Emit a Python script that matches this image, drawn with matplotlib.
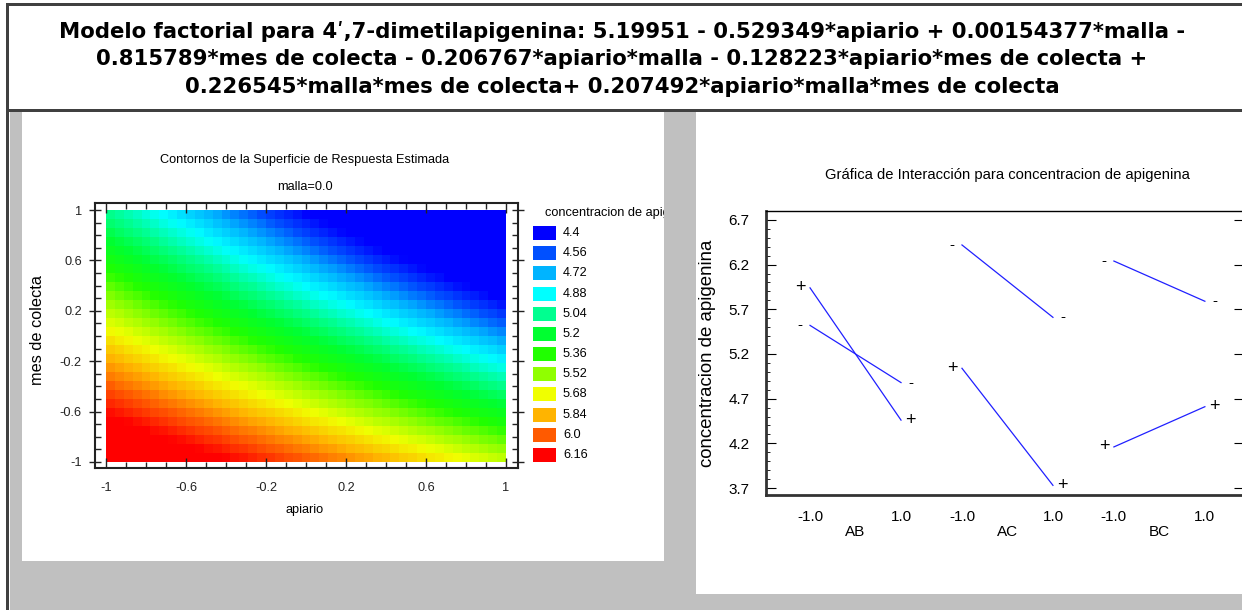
import matplotlib
matplotlib.use('Agg')
import matplotlib.pyplot as plt
import numpy as np
from matplotlib.patches import Rectangle
from matplotlib.colors import LinearSegmentedColormap, Normalize
from matplotlib.transforms import Bbox, TransformedBbox, blended_transform_factory

REG = 'Liberation Sans'
plt.rcParams['font.family'] = [REG, 'DejaVu Sans']

# ---- datos ----
titulo = ["Modelo factorial para 4\u02b9,7-dimetilapigenina: 5.19951 - 0.529349*apiario + 0.00154377*malla -",
          "0.815789*mes de colecta - 0.206767*apiario*malla - 0.128223*apiario*mes de colecta +",
          "0.226545*malla*mes de colecta+ 0.207492*apiario*malla*mes de colecta"]

# coeficientes del modelo (del titulo)
coef_const = 5.19951
coef_a = -0.529349       # apiario
coef_b = 0.00154377      # malla
coef_c = -0.815789       # mes de colecta
coef_ab = -0.206767
coef_ac = -0.128223
coef_bc = 0.226545
coef_abc = 0.207492
malla_fija = 0.0

niveles = ['4.4', '4.56', '4.72', '4.88', '5.04', '5.2', '5.36', '5.52', '5.68', '5.84', '6.0', '6.16']
colores = ['#0000ff', '#0050ff', '#00b4ff', '#00ffff', '#00ff90', '#00ff30',
           '#20ff00', '#90ff00', '#f0ff00', '#ffb400', '#ff5a00', '#ff0000']
ticks_superficie = [-1, -0.6, -0.2, 0.2, 0.6, 1]

# grafica de interaccion
grupos = ['AB', 'AC', 'BC']
mas_bajo = [5.94, 5.04, 4.16]
mas_alto = [4.46, 3.73, 4.61]
menos_bajo = [5.52, 6.42, 6.24]
menos_alto = [4.88, 5.61, 5.79]
ticks_inter = [3.7, 4.2, 4.7, 5.2, 5.7, 6.2, 6.7]

W, H = 1242, 610
fig = plt.figure(figsize=(W / 100, H / 100), dpi=100)
fig.patch.set_facecolor('white')


def fx(x):
    return x / W


def fy(y):
    return 1 - y / H


def caja(x0, y0, x1, y1, color, z=-10):
    fig.patches.append(Rectangle((fx(x0), fy(y1)), fx(x1 - x0), (y1 - y0) / H,
                                 transform=fig.transFigure, color=color, zorder=z, lw=0))


# fondo gris, paneles blancos y bordes
caja(10, 112, W, H, '#c0c0c0')
caja(22, 112, 664, 561, 'white', -9)
caja(696, 112, W, 594, 'white', -9)
caja(6, 3, W, 6, '#404040', -8)
caja(6, 3, 9, H, '#404040', -8)
caja(6, 109, W, 112, '#404040', -8)

for i, linea in enumerate(titulo):
    fig.text(fx(622), fy(31 + 28 * i), linea, ha='center', va='center',
             fontsize=15.3, fontweight='bold', family='DejaVu Sans')

# ---- superficie de respuesta ----
fs_izq = 9.2
ax = fig.add_axes([fx(95), fy(468), fx(518 - 95), (468 - 203) / H])
nx, ny = 45, 28
xe = np.linspace(-1, 1, nx + 1)
ye = np.linspace(-1, 1, ny + 1)
xc = (xe[:-1] + xe[1:]) / 2
yc = (ye[:-1] + ye[1:]) / 2
A, C = np.meshgrid(xc, yc)
B = malla_fija
Z = (coef_const + coef_a * A + coef_b * B + coef_c * C + coef_ab * A * B
     + coef_ac * A * C + coef_bc * B * C + coef_abc * A * B * C)
vals = [float(v) for v in niveles]
cmap = LinearSegmentedColormap.from_list('sup', colores)
ax.pcolormesh(xe, ye, Z, cmap=cmap, norm=Normalize(vals[0], vals[-1]), shading='flat')
ax.set_xlim(-1.055, 1.06)
ax.set_ylim(-1.048, 1.056)
ax.set_xticks(ticks_superficie)
ax.set_yticks(ticks_superficie)
ax.set_xticklabels([f'{t:g}' for t in ticks_superficie])
ax.set_yticklabels([f'{t:g}' for t in ticks_superficie])
ax.set_xticks(np.arange(-1, 1.01, 0.1), minor=True)
ax.set_yticks(np.arange(-1, 1.01, 0.1), minor=True)
ax.tick_params(which='both', top=True, right=True, direction='in', labelsize=fs_izq, colors='#222222')
ax.tick_params(which='major', length=7, width=1)
ax.tick_params(which='minor', length=4, width=1)
ax.tick_params(axis='y', which='major', direction='inout', length=9)
ax.tick_params(axis='x', pad=10)
ax.tick_params(axis='y', pad=5)
for s in ax.spines.values():
    s.set_linewidth(1.5)
    s.set_color('#222222')

fig.text(fx(305), fy(160), 'Contornos de la Superficie de Respuesta Estimada', ha='center', va='center', fontsize=fs_izq)
fig.text(fx(305), fy(187), 'malla=0.0', ha='center', va='center', fontsize=fs_izq)
fig.text(fx(305), fy(510), 'apiario', ha='center', va='center', fontsize=fs_izq)
fig.text(fx(37), fy(330), 'mes de colecta', ha='center', va='center', rotation=90, fontsize=11.7)

# leyenda
axl = fig.add_axes([fx(533), fy(465), fx(664 - 533), (465 - 223) / H])
axl.barh(range(len(niveles)), 23, left=0, height=0.7, color=colores)
for i, n in enumerate(niveles):
    axl.text(30, i, n, va='center', ha='left', fontsize=fs_izq)
axl.set_xlim(0, 131)
axl.set_ylim(len(niveles) - 0.5, -0.5)
axl.axis('off')
t = fig.text(fx(545), fy(213), 'concentracion de apigenina', ha='left', va='center', fontsize=fs_izq)
t.set_clip_box(TransformedBbox(Bbox([[fx(22), fy(561)], [fx(664), fy(112)]]), fig.transFigure))
t.set_clip_on(True)

# ---- grafica de interaccion ----
ax2 = fig.add_axes([fx(766), fy(495), fx(1244 - 766), (495 - 211) / H])
sep = 1.67
pos_bajo = [i * sep for i in range(len(grupos))]
pos_alto = [i * sep + 1 for i in range(len(grupos))]
for i in range(len(grupos)):
    for y0, y1, signo in [(mas_bajo[i], mas_alto[i], '+'), (menos_bajo[i], menos_alto[i], '-')]:
        ax2.plot([pos_bajo[i], pos_alto[i]], [y0, y1], color='#2020ff', lw=0.9)
        fs_s = 13 if signo == '+' else 11
        ax2.annotate(signo, (pos_bajo[i], y0), xytext=(-7, 0), textcoords='offset points',
                     ha='center', va='center', fontsize=fs_s)
        ax2.annotate(signo, (pos_alto[i], y1), xytext=(7, 0), textcoords='offset points',
                     ha='center', va='center', fontsize=fs_s)
ax2.set_xlim(-0.484, 4.77)
ax2.set_ylim(3.622, 6.80)
ax2.set_xticks(pos_bajo + pos_alto)
ax2.set_xticklabels(['-1.0'] * len(grupos) + ['1.0'] * len(grupos))
ax2.tick_params(axis='x', length=0, pad=11, labelsize=11)
ax2.set_yticks(ticks_inter)
ax2.set_yticklabels([f'{t:.1f}' for t in ticks_inter])
ax2.set_yticks(np.arange(3.7, 6.71, 0.1), minor=True)
ax2.tick_params(axis='y', which='major', direction='in', length=7, right=True, labelsize=11, pad=12)
ax2.tick_params(axis='y', which='minor', direction='in', length=3)
tr = blended_transform_factory(ax2.transData, fig.transFigure)
for i, g in enumerate(grupos):
    ax2.text((pos_bajo[i] + pos_alto[i]) / 2, fy(532), g, transform=tr, ha='center', va='center', fontsize=11)
for s in ['left', 'bottom']:
    ax2.spines[s].set_linewidth(2)
    ax2.spines[s].set_color('#333333')
ax2.spines['top'].set_linewidth(1)

fig.text(fx(1007), fy(175), 'Gr\u00e1fica de Interacci\u00f3n para concentracion de apigenina',
         ha='center', va='center', fontsize=10.6)
fig.text(fx(708), fy(353), 'concentracion de apigenina', ha='center', va='center',
         rotation=90, fontsize=13.4)

fig.savefig('out.png', dpi=100)
